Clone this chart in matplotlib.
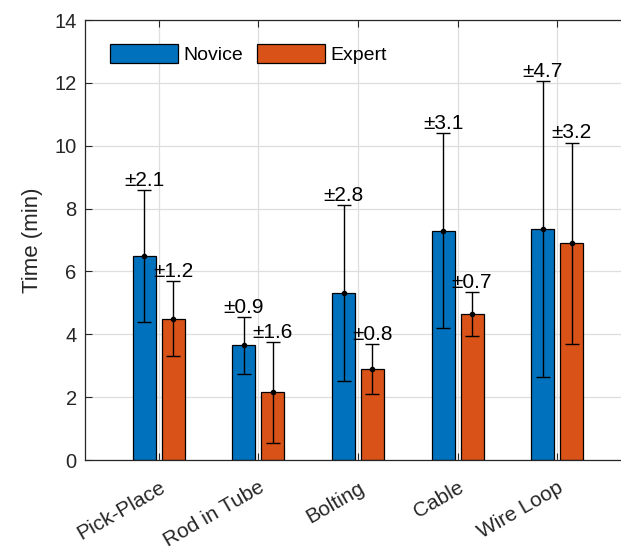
import numpy as np
import matplotlib.pyplot as plt

plt.rcParams['font.family'] = ['Liberation Sans', 'DejaVu Sans']

tasks = ['Pick-Place', 'Rod in Tube', 'Bolting', 'Cable', 'Wire Loop']
novice_mean = [6.5, 3.65, 5.3, 7.3, 7.35]
novice_std = [2.1, 0.9, 2.8, 3.1, 4.7]
expert_mean = [4.5, 2.15, 2.9, 4.65, 6.9]
expert_std = [1.2, 1.6, 0.8, 0.7, 3.2]

blue = (0, 0.447, 0.741)
orange = (0.851, 0.325, 0.098)
axis_col = (0.15, 0.15, 0.15)

fig = plt.figure(figsize=(6.21, 5.52), dpi=100)
# axes runs to the right edge of the figure, right side open
ax = fig.add_axes([85 / 621, 92 / 552, 536 / 621, 440 / 552])

x = np.arange(1, len(tasks) + 1)
w = 0.23
off = 0.145

ax.bar(x - off, novice_mean, w, color=blue, edgecolor='black', linewidth=0.9,
       label='Novice', zorder=2)
ax.bar(x + off, expert_mean, w, color=orange, edgecolor='black', linewidth=0.9,
       label='Expert', zorder=2)

for xs, m, s in [(x - off, novice_mean, novice_std), (x + off, expert_mean, expert_std)]:
    ax.errorbar(xs, m, yerr=s, fmt='.', color='black', ecolor='black',
                elinewidth=1, capsize=5, capthick=1, markersize=6, zorder=3)
    for xi, mi, si in zip(xs, m, s):
        ax.annotate(f'±{si:.1f}', (xi, mi + si), xytext=(0, 3),
                    textcoords='offset points', ha='center', va='baseline',
                    fontsize=15, zorder=4)

ax.set_xlim(0.26, 5.64)
ax.set_ylim(0, 14)
ax.set_yticks(np.arange(0, 15, 2))
ax.set_xticks(x)
ax.set_xticklabels(tasks, rotation=30, ha='right', va='top',
                   rotation_mode='anchor', fontsize=15)
ax.set_ylabel('Time (min)', fontsize=16, color=axis_col)
ax.yaxis.set_label_coords(-85 * 0.077 / 85 * 546 / 536, 0.5)

ax.grid(True, color=(0.87, 0.87, 0.87), linewidth=0.9, zorder=0)
ax.set_axisbelow(True)
ax.tick_params(direction='in', length=5, width=0.8, color=axis_col,
               labelcolor=axis_col, top=True, right=False)
ax.tick_params(axis='y', labelsize=14.5, pad=6)
ax.tick_params(axis='x', pad=13)
for sp in ax.spines.values():
    sp.set_color(axis_col)
    sp.set_linewidth(0.9)
ax.spines['right'].set_visible(False)

ax.legend(loc='upper left', bbox_to_anchor=(25 / 536, 1 - 24 / 440), ncol=2,
          frameon=False, fontsize=14, handlelength=3.5, handleheight=1.1,
          handletextpad=0.25, columnspacing=0.75, borderpad=0, borderaxespad=0)

fig.savefig('out.png', dpi=100)
